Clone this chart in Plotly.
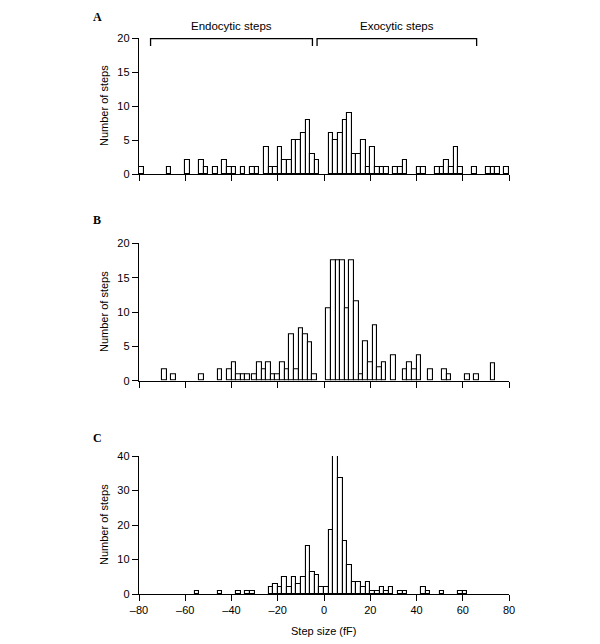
import plotly.graph_objects as go
from plotly.subplots import make_subplots

# step size bin centres (fF, 2 fF bins) and number of steps
a_size = [-79, -67, -59, -53, -51, -47, -43, -41, -39, -35,
          -31, -29, -25, -23, -21, -19, -17, -15, -13, -11,
          -9, -7, -5, -3, 3, 5, 7, 9, 11, 13,
          15, 17, 19, 21, 23, 25, 27, 31, 33, 35,
          41, 43, 49, 51, 53, 55, 57, 59, 65, 71,
          73, 75, 79]
a_count = [1, 1, 2, 2, 1, 1, 2, 1, 1, 1,
           1, 1, 4, 1, 1, 4, 2, 2, 5, 5,
           6, 8, 3, 2, 6, 5, 6, 8, 9, 3,
           3, 5, 1, 4, 1, 1, 1, 1, 1, 2,
           1, 1, 1, 1, 2, 1, 4, 1, 1, 1,
           1, 1, 1]

b_size = [-69, -65, -53, -45, -41, -39, -37, -35, -33, -30,
          -28, -26, -24, -22, -20, -18, -16, -14, -12, -10,
          -8, -6, -4, 2, 4, 6, 8, 10, 12, 14,
          16, 18, 20, 22, 24, 26, 30, 35, 37, 39,
          41, 46, 52, 54, 62, 66, 73]
b_count = [1.6, 1, 1, 1.6, 1.6, 2.7, 1, 1, 1, 1,
           2.7, 1.6, 2.7, 1, 1, 2.7, 1.6, 6.7, 1.6, 7.7,
           6.7, 5.6, 1, 10.5, 17.5, 17.5, 17.5, 10.5, 17.5, 11.5,
           1, 5.8, 2.7, 8, 1.9, 2.7, 3.7, 1.6, 2.7, 1.6,
           3.7, 1.6, 1.6, 1, 1, 1, 2.6]

c_size = [-55, -45, -37, -33, -31, -23, -21, -19, -17, -15,
          -13, -11, -9, -7, -5, -3, -1, 1, 3, 5,
          7, 9, 11, 13, 15, 17, 19, 21, 23, 25,
          27, 29, 33, 35, 43, 45, 51, 59, 61]
c_count = [1, 1, 1, 1, 1, 2, 3, 2, 5, 2,
           5, 3, 5, 14, 6.5, 5.5, 2, 2, 18.5, 40.5,
           33.5, 15.5, 8.5, 3.5, 3.5, 2, 3.5, 1, 1, 2,
           1, 2, 1, 1, 2, 1, 1, 1, 1]

x_ticks = [-80, -60, -40, -20, 0, 20, 40, 60, 80]
panels = [
    ('A', a_size, a_count, [0, 5, 10, 15, 20], 20),
    ('B', b_size, b_count, [0, 5, 10, 15, 20], 20),
    ('C', c_size, c_count, [0, 10, 20, 30, 40], 40),
]

# bracket ranges above panel A (fF)
endo_range = [-75, -5]
exo_range = [-3, 66]

W, H = 600, 644
OFF = 8  # page body margin of the html output


def px(x):
    return (x - OFF) / W


def py(y):
    return 1 - (y - OFF) / H


x_dom = [px(139), px(509)]
y_doms = [[py(174), py(38)],
          [py(380.7), py(243.3)],
          [py(594), py(456)]]
letter_top = [8, 211, 429]

font = 'Liberation Sans, Arial, sans-serif'

fig = make_subplots(rows=3, cols=1)

for i, (label, size, count, yticks, ymax) in enumerate(panels):
    row = i + 1
    fig.add_trace(
        go.Bar(
            x=size,
            y=count,
            width=2,
            marker=dict(color='white', line=dict(color='black', width=1.1)),
            cliponaxis=False,
            showlegend=False,
            hoverinfo='x+y',
        ),
        row=row, col=1
    )
    fig.update_xaxes(
        range=[-80, 80], tickvals=x_ticks,
        ticktext=[str(t).replace('-', '\u2013') for t in x_ticks],
        showticklabels=(row == 3),
        ticks='outside', ticklen=6, tickwidth=1.4, tickcolor='black',
        showline=True, linecolor='black', linewidth=1.4,
        showgrid=False, zeroline=False, domain=x_dom, automargin=False,
        row=row, col=1
    )
    fig.update_yaxes(
        range=[0, ymax], tickvals=yticks,
        ticks='outside', ticklen=6, tickwidth=1.4, tickcolor='black',
        showline=True, linecolor='black', linewidth=1.4,
        showgrid=False, zeroline=False, domain=y_doms[i], automargin=False,
        row=row, col=1
    )
    fig.add_annotation(
        text='<b>%s</b>' % label, xref='paper', yref='paper',
        x=px(97), y=py(letter_top[i]), xanchor='center', yanchor='top',
        showarrow=False,
        font=dict(family='Liberation Serif, serif', size=12, color='black')
    )
    fig.add_annotation(
        text='Number of steps', xref='paper', yref='paper', textangle=-90,
        x=px(104), y=(y_doms[i][0] + y_doms[i][1]) / 2,
        xanchor='center', yanchor='middle', showarrow=False,
        font=dict(family=font, size=11, color='black')
    )

fig.add_annotation(
    text='Step size (fF)', xref='paper', yref='paper',
    x=(x_dom[0] + x_dom[1]) / 2, y=py(631),
    xanchor='center', yanchor='middle', showarrow=False,
    font=dict(family=font, size=11, color='black')
)

top = py(38.7)
foot = py(46)
for rng, txt in [(endo_range, 'Endocytic steps'), (exo_range, 'Exocytic steps')]:
    fig.add_shape(type='path', xref='x', yref='paper',
                  path='M %s,%s L %s,%s L %s,%s L %s,%s' % (rng[0], foot, rng[0], top, rng[1], top, rng[1], foot),
                  line=dict(color='black', width=1.3))
    fig.add_annotation(
        text=txt, xref='x', yref='paper', x=(rng[0] + rng[1]) / 2, y=py(26.5),
        xanchor='center', yanchor='middle',
        showarrow=False, font=dict(family=font, size=11.5, color='black')
    )

fig.update_layout(
    width=W, height=H,
    margin=dict(l=0, r=0, t=0, b=0, pad=0),
    paper_bgcolor='white', plot_bgcolor='white',
    font=dict(family=font, size=11, color='black'),
    bargap=0,
)

fig.write_html('out.html')
